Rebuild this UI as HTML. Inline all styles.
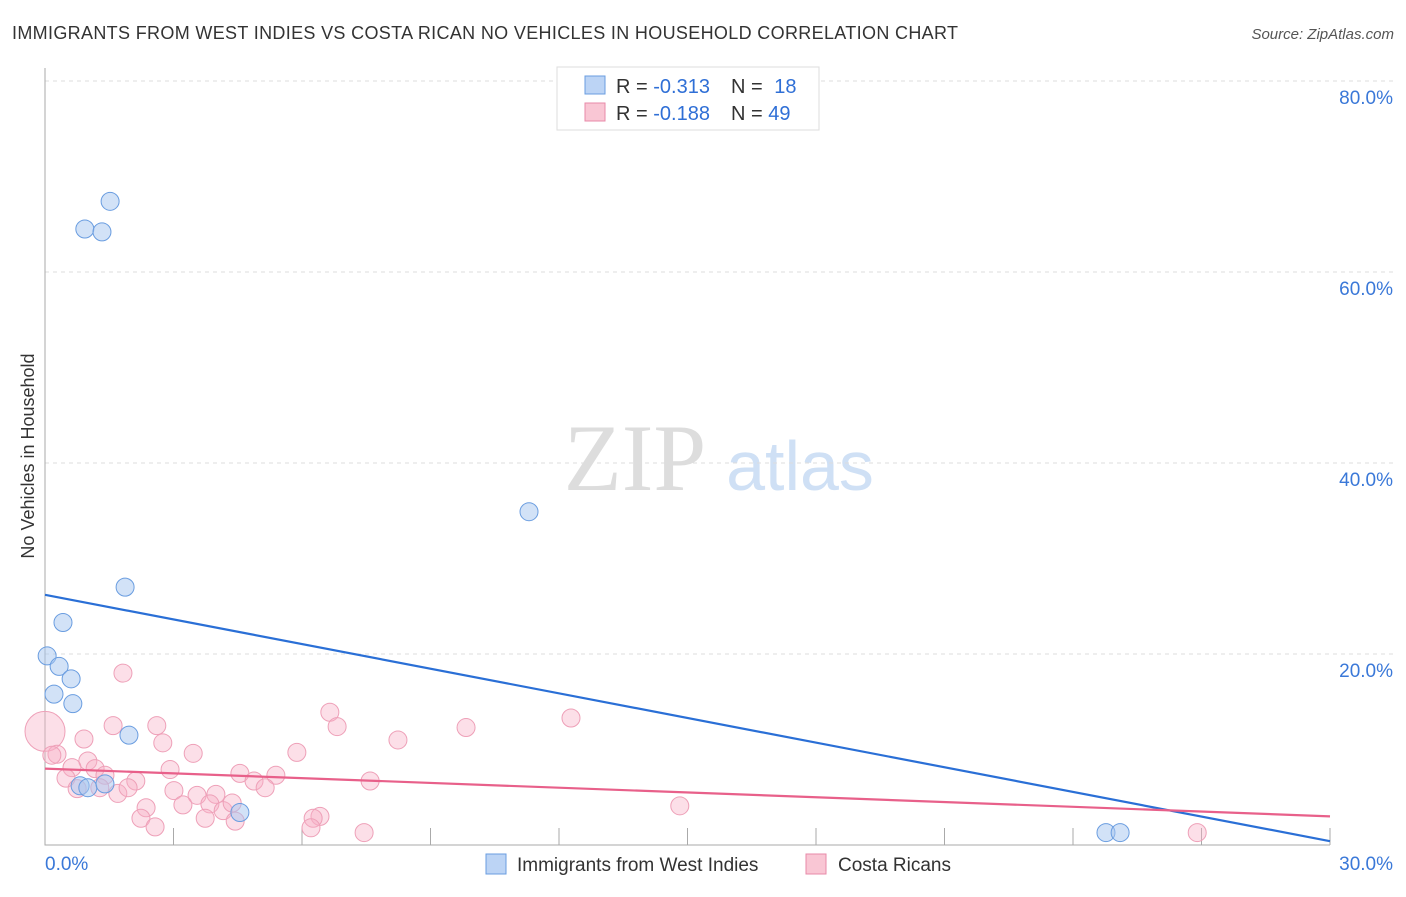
<!DOCTYPE html>
<html><head><meta charset="utf-8"><style>
body{margin:0;background:#fff;font-family:"Liberation Sans",sans-serif}
svg text{font-family:"Liberation Sans",sans-serif}
svg text.serif{font-family:"Liberation Serif",serif}
</style></head><body>
<svg id="chart" width="1406" height="892" xmlns="http://www.w3.org/2000/svg">
<text x="12" y="39" font-size="18" fill="#333" textLength="946" lengthAdjust="spacing">IMMIGRANTS FROM WEST INDIES VS COSTA RICAN NO VEHICLES IN HOUSEHOLD CORRELATION CHART</text>
<text x="1394" y="39" font-size="15" fill="#555" text-anchor="end" font-style="italic">Source: ZipAtlas.com</text>
<text x="635" y="490" font-size="95" fill="#ddd" class="serif" text-anchor="middle">ZIP</text>
<text x="800" y="490" font-size="70" fill="#cfe0f5" text-anchor="middle">atlas</text>
<g id="grid"></g><g id="axes"></g><g id="marks"></g>
<text transform="translate(34,456) rotate(-90)" font-size="18" fill="#333" text-anchor="middle">No Vehicles in Household</text>
<g>
<rect x="557" y="67" width="262" height="63" fill="#fff" stroke="#ddd"/>
<rect x="585" y="76" width="20" height="18" fill="#bcd4f5" stroke="#6a9de0"/>
<rect x="585" y="103" width="20" height="18" fill="#f9c6d4" stroke="#e88aa8"/>
<text x="616" y="93" font-size="20" fill="#333">R = <tspan fill="#2f6fd6">-0.313</tspan></text>
<text x="731" y="93" font-size="20" fill="#333">N = <tspan fill="#2f6fd6" dx="6">18</tspan></text>
<text x="616" y="120" font-size="20" fill="#333">R = <tspan fill="#2f6fd6">-0.188</tspan></text>
<text x="731" y="120" font-size="20" fill="#333">N = <tspan fill="#2f6fd6">49</tspan></text>
</g>
<g>
<rect x="486" y="854" width="20" height="20" fill="#bcd4f5" stroke="#6a9de0"/>
<text x="517" y="871" font-size="19" fill="#333">Immigrants from West Indies</text>
<rect x="806" y="854" width="20" height="20" fill="#f9c6d4" stroke="#e88aa8"/>
<text x="838" y="871" font-size="19" fill="#333">Costa Ricans</text>
</g>
</svg>
<script>
const yTicks=[20,40,60,80];
const yTickLabels=["20.0%","40.0%","60.0%","80.0%"];
const xTickLabels=["0.0%","30.0%"];
const blueX=[1.52,0.93,1.33,11.3,1.87,0.42,0.05,0.33,0.61,0.21,0.65,1.96,0.82,1.0,1.4,4.55,24.77,25.1];
const blueY=[67.4,64.5,64.2,34.9,27.0,23.3,19.8,18.7,17.4,15.8,14.8,11.5,6.2,6.0,6.4,3.4,1.3,1.3];
const pinkX=[0,1.82,6.65,6.82,12.28,9.83,1.59,2.61,2.75,0.91,3.46,5.88,8.24,0.28,0.16,1.0,0.63,1.17,0.49,1.4,2.12,2.92,4.55,4.88,5.39,5.14,7.59,0.75,1.28,1.7,1.94,3.01,3.55,3.99,3.22,3.85,2.36,4.16,2.24,3.74,4.44,2.57,6.42,6.26,6.21,7.45,14.82,26.9,4.37];
const pinkY=[11.9,18.0,13.9,12.4,13.3,12.3,12.5,12.5,10.7,11.1,9.6,9.7,11.0,9.5,9.4,8.8,8.1,8.0,7.0,7.3,6.7,7.9,7.5,6.7,7.3,6.0,6.7,5.9,6.0,5.4,6.0,5.7,5.2,5.3,4.2,4.3,3.9,3.6,2.8,2.8,2.5,1.9,3.0,2.8,1.8,1.3,4.1,1.3,4.4];
const blueTrend=[26.2,0.4];
const pinkTrend=[8.0,3.0];
const NS="http://www.w3.org/2000/svg";
const X=v=>45+v/30*1285, Y=v=>845-v*9.55;
function mk(tag,attrs,parent){const e=document.createElementNS(NS,tag);for(const k in attrs)e.setAttribute(k,attrs[k]);document.getElementById(parent).appendChild(e);return e;}
yTicks.forEach((t,i)=>{
 const l=mk('line',{x1:45,x2:1394,y1:Y(t),y2:Y(t),stroke:'#ddd','stroke-dasharray':'4,4'},'grid');
 
 
 const tx=mk('text',{x:1393,y:Y(t)+23,'font-size':19,fill:'#3a78d8','text-anchor':'end'},'grid');
 tx.textContent=yTickLabels[i];
 
 
});
const ax=mk('path',{d:'M45,68V845H1330',stroke:'#aaa',fill:'none'},'axes');


for(let i=1;i<=10;i++){const t=mk('line',{x1:X(i*3),x2:X(i*3),y1:828,y2:845,stroke:'#aaa'},'axes');
 
 }
[[45,'start',0],[1393,'end',1]].forEach(([x,a,i])=>{const t=mk('text',{x:x,y:870,'font-size':19,fill:'#3a78d8','text-anchor':a},'axes');t.textContent=xTickLabels[i];
 
 });
pinkX.forEach((v,i)=>{const c=mk('circle',{cx:X(v),cy:Y(pinkY[i]),r:i===0?20:9,fill:'rgba(247,175,198,0.4)',stroke:'#eea0b8','stroke-width':1},'marks');
 
 });
blueX.forEach((v,i)=>{const c=mk('circle',{cx:X(v),cy:Y(blueY[i]),r:9,fill:'rgba(165,198,240,0.5)',stroke:'#6a9de0','stroke-width':1},'marks');
 
 });
const bl=mk('line',{x1:X(0),y1:Y(blueTrend[0]),x2:X(30),y2:Y(blueTrend[1]),stroke:'#2a6fd6','stroke-width':2.2},'marks');


const pl=mk('line',{x1:X(0),y1:Y(pinkTrend[0]),x2:X(30),y2:Y(pinkTrend[1]),stroke:'#e8608a','stroke-width':2.2},'marks');


</script>
</body></html>
